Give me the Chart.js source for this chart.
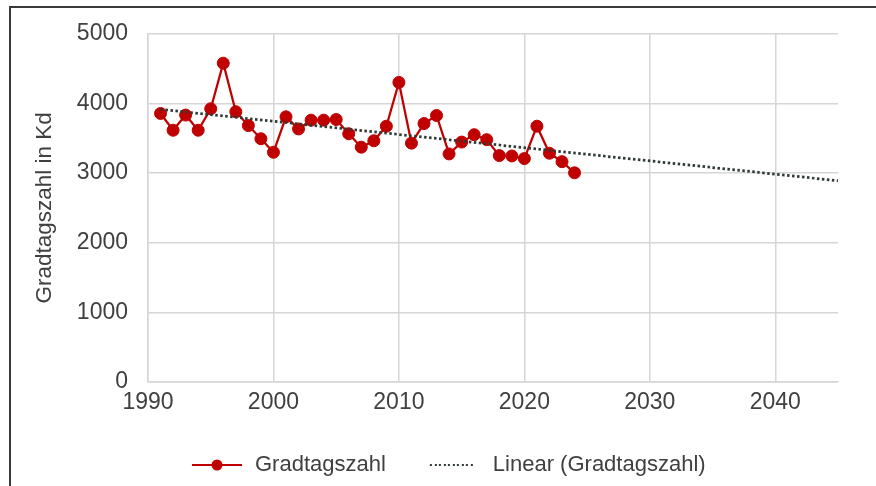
<!DOCTYPE html>
<html>
<head>
<meta charset="utf-8">
<script src="https://cdn.jsdelivr.net/npm/chart.js@4.4.1/dist/chart.umd.min.js"></script>
<style>
  html, body { margin: 0; padding: 0; background: #fff; }
  #wrap { position: relative; width: 876px; height: 486px; overflow: hidden; }
  #frame { position: absolute; left: 9px; top: 6px; width: 900px; height: 500px;
           border-left: 2px solid #3a3a3a; border-top: 2px solid #3a3a3a; }
  #gradChart { position: absolute; left: 0; top: 0; }
</style>
</head>
<body>
<div id="wrap">
  <div id="frame"></div>
  <canvas id="gradChart" width="876" height="486"></canvas>
</div>
<script>
// Gradtagszahl per year
var years = [1991, 1992, 1993, 1994, 1995, 1996, 1997, 1998, 1999, 2000,
             2001, 2002, 2003, 2004, 2005, 2006, 2007, 2008, 2009, 2010,
             2011, 2012, 2013, 2014, 2015, 2016, 2017, 2018, 2019, 2020,
             2021, 2022, 2023, 2024];
var gradtage = [3856, 3615, 3833, 3615, 3924, 4578, 3881, 3682, 3493, 3299,
                3808, 3634, 3760, 3760, 3769, 3565, 3372, 3464, 3673, 4302,
                3430, 3711, 3827, 3275, 3445, 3551, 3480, 3251, 3246, 3208,
                3673, 3285, 3164, 3004];

// linear trend line, end points
var trendYears = [1991, 2045];
var trendValues = [3915, 2890];

var xTicks = [1990, 2000, 2010, 2020, 2030, 2040];
var yTicks = [0, 1000, 2000, 3000, 4000, 5000];

var labelNames = ["Gradtagszahl", "Linear (Gradtagszahl)"];

var red = "#C00000";
var dotColor = "#2f3a35";
var textColor = "#404040";
var gridColor = "#d6d6d6";

// little pictures for the legend (64 wide, sample drawn inside)
function makeLineSample() {
    var c = document.createElement("canvas");
    c.width = 64; c.height = 14;
    var g = c.getContext("2d");
    g.strokeStyle = red;
    g.lineWidth = 2;
    g.beginPath(); g.moveTo(12, 7); g.lineTo(62, 7); g.stroke();
    g.fillStyle = red;
    g.beginPath(); g.arc(37, 7, 5.5, 0, Math.PI * 2); g.fill();
    return c;
}
function makeDotSample() {
    var c = document.createElement("canvas");
    c.width = 64; c.height = 6;
    var g = c.getContext("2d");
    g.fillStyle = dotColor;
    for (var x = 12; x < 57; x += 4.5) {
        g.fillRect(Math.round(x), 2, 2, 2);
    }
    return c;
}

var points = [];
for (var i = 0; i < years.length; i++) {
    points.push({ x: years[i], y: gradtage[i] });
}
var trend = [];
for (var j = 0; j < trendYears.length; j++) {
    trend.push({ x: trendYears[j], y: trendValues[j] });
}

var fam = "'Liberation Sans', Arial, sans-serif";

var ctx = document.getElementById("gradChart");
var chart = new Chart(ctx, {
    type: "line",
    data: {
        datasets: [{
            label: labelNames[0],
            data: points,
            borderColor: red,
            backgroundColor: red,
            borderWidth: 2.25,
            pointRadius: 6,
            pointBorderWidth: 1,
            pointBackgroundColor: red,
            pointBorderColor: red,
            fill: false,
            tension: 0,
            order: 1
        },
        {
            label: labelNames[1],
            data: trend,
            borderColor: dotColor,
            borderWidth: 2.75,
            borderDash: [2.5, 2.5],
            pointRadius: 0,
            fill: false,
            order: 0
        }]
    },
    options: {
        responsive: false,
        animation: false,
        layout: { padding: { left: 0, right: 38, top: 32, bottom: 0 } },
        scales: {
            x: {
                type: "linear",
                min: 1990,
                max: 2045,
                afterBuildTicks: function(scale) {
                    scale.ticks = xTicks.map(function(v) { return { value: v }; });
                },
                afterFit: function(scale) { scale.height = 40; },
                ticks: {
                    color: textColor,
                    font: { family: fam, size: 23 },
                    padding: 7,
                    maxRotation: 0,
                    callback: function(v) { return String(v); }
                },
                grid: { color: gridColor, lineWidth: 1.5, drawTicks: false },
                border: { color: gridColor, width: 1.5 }
            },
            y: {
                min: 0,
                max: 5000,
                afterBuildTicks: function(scale) {
                    scale.ticks = yTicks.map(function(v) { return { value: v }; });
                },
                afterFit: function(scale) { scale.width = 148; },
                ticks: {
                    color: textColor,
                    font: { family: fam, size: 23 },
                    padding: 20,
                    callback: function(v) { return String(v); }
                },
                grid: { color: gridColor, lineWidth: 1.5, drawTicks: false },
                border: { color: gridColor, width: 1.5 },
                title: {
                    display: true,
                    text: "Gradtagszahl in Kd",
                    color: textColor,
                    font: { family: fam, size: 22.5 },
                    padding: { top: 31, bottom: 0 }
                }
            }
        },
        plugins: {
            tooltip: { enabled: false },
            legend: {
                display: true,
                position: "bottom",
                align: "start",
                fullSize: false,
                maxHeight: 70,
                labels: {
                    color: textColor,
                    font: { family: fam, size: 22 },
                    padding: 32,
                    usePointStyle: true,
                    pointStyleWidth: 64,
                    generateLabels: function() {
                        var pics = [makeLineSample(), makeDotSample()];
                        return labelNames.map(function(n, k) {
                            return {
                                text: n,
                                fontColor: textColor,
                                pointStyle: pics[k],
                                fillStyle: "transparent",
                                strokeStyle: "transparent",
                                lineWidth: 0,
                                hidden: false,
                                datasetIndex: k
                            };
                        });
                    }
                }
            }
        }
    }
});
</script>
</body>
</html>
